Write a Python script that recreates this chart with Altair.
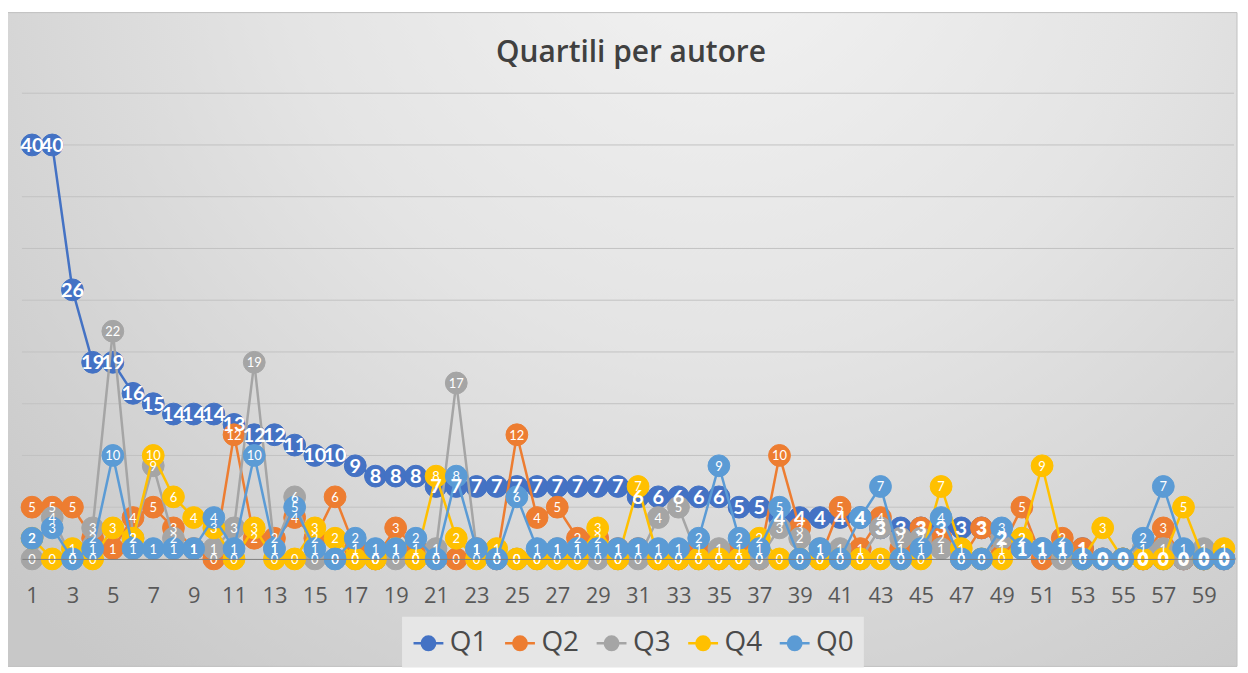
import altair as alt
import pandas as pd

# ---------------- data ----------------
authors = list(range(1, 61))
series_names = ["Q1", "Q2", "Q3", "Q4", "Q0"]
series_colors = ["#4472C4", "#ED7D31", "#A5A5A5", "#FFC000", "#5B9BD5"]
tick_labels = list(range(1, 61, 2))
grid_values = list(range(5, 50, 5))

q1 = [40, 40, 26, 19, 19, 16, 15, 14, 14, 14,
      13, 12, 12, 11, 10, 10, 9, 8, 8, 8,
      7, 7, 7, 7, 7, 7, 7, 7, 7, 7,
      6, 6, 6, 6, 6, 5, 5, 4, 4, 4,
      4, 4, 3, 3, 3, 3, 3, 3, 2, 1,
      1, 1, 1, 0, 0, 0, 0, 0, 0, 0]
q2 = [5, 5, 5, 2, 1, 4, 5, 3, 1, 0,
      12, 2, 2, 4, 2, 6, 1, 0, 3, 1,
      0, 0, 1, 0, 12, 4, 5, 2, 2, 1,
      1, 0, 0, 1, 0, 1, 0, 10, 3, 0,
      5, 1, 4, 1, 3, 2, 0, 3, 1, 5,
      0, 2, 1, 0, 0, 0, 3, 0, 0, 0]
q3 = [0, 4, 0, 3, 22, 2, 9, 2, 1, 1,
      3, 19, 1, 6, 0, 0, 0, 0, 0, 0,
      1, 17, 1, 0, 0, 0, 1, 1, 0, 0,
      0, 4, 5, 0, 1, 0, 0, 3, 2, 1,
      1, 0, 3, 2, 2, 1, 0, 0, 2, 2,
      1, 0, 0, 0, 0, 1, 1, 0, 1, 0]
q4 = [2, 0, 1, 0, 3, 2, 10, 6, 4, 3,
      0, 3, 0, 0, 3, 2, 0, 0, 1, 0,
      8, 2, 0, 1, 0, 0, 0, 0, 3, 0,
      7, 0, 0, 0, 0, 0, 2, 0, 0, 0,
      0, 0, 0, 0, 0, 7, 1, 0, 0, 2,
      9, 1, 0, 3, 0, 0, 0, 5, 0, 1]
q0 = [2, 3, 0, 1, 10, 1, 1, 1, 1, 4,
      1, 10, 1, 5, 1, 0, 2, 1, 1, 2,
      0, 8, 1, 0, 6, 1, 1, 1, 1, 1,
      1, 1, 1, 2, 9, 2, 1, 5, 0, 1,
      0, 4, 7, 0, 1, 4, 0, 0, 3, 1,
      1, 1, 0, 0, 0, 2, 7, 1, 0, 0]

all_values = [q1, q2, q3, q4, q0]

rows = []
for name, vals in zip(series_names, all_values):
    for a, v in zip(authors, vals):
        rows.append({"autore": a, "serie": name, "valore": v})
df = pd.DataFrame(rows)
single = pd.DataFrame({"k": [0]})
grid_df = pd.DataFrame({"valore": grid_values})

W, H = 1218, 468
FONT = "Open Sans"
LABEL_FONT = "Lato"
TEXT_GREY = "#595959"

y_scale = alt.Scale(domain=[0, 45], nice=False)

x_enc = alt.X(
    "autore:O",
    scale=alt.Scale(domain=authors),
    axis=alt.Axis(
        values=tick_labels, labelAngle=0, ticks=False, labelPadding=27,
        labelFontSize=22, labelColor=TEXT_GREY, labelFont=FONT,
        labelOverlap=False, domainColor="#7f7f7f", domainWidth=1,
        grid=False, title=None, zindex=1,
    ),
)
y_enc = alt.Y("valore:Q", scale=y_scale, axis=None)

# legend symbol: short line through a disk (disk built from concentric strokes)
disk = "".join(
    f"M{r},0A{r},{r},0,1,1,-{r},0A{r},{r},0,1,1,{r},0"
    for r in ("0.08", "0.18", "0.28", "0.38", "0.45")
)
legend_symbol = "M-1,0L1,0" + disk

legend = alt.Legend(
    title=None, orient="none", legendX=382, legendY=526,
    direction="horizontal", fillColor="#e6e6e6", padding=10,
    symbolType=legend_symbol, symbolSize=900, symbolStrokeWidth=2.5,
    symbolOpacity=1,
    labelFontSize=28, labelColor="#4a4a4a", labelFont=FONT,
    labelOffset=5, columnPadding=12, zindex=1,
)


def scale():
    return alt.Scale(domain=series_names, range=series_colors)


gradient = {
    "gradient": "radial",
    "x1": 0.58, "y1": 0.15, "r1": 0.0,
    "x2": 0.58, "y2": 0.15, "r2": 0.8,
    "stops": [
        {"offset": 0.0, "color": "#f3f3f3"},
        {"offset": 0.45, "color": "#e4e4e4"},
        {"offset": 1.0, "color": "#c8c8c8"},
    ],
}

background = alt.Chart(single).mark_rect(
    color=gradient, stroke="#bfbfbf", strokeWidth=1
).encode(
    x=alt.value(-15), x2=alt.value(1221), y=alt.value(-81), y2=alt.value(576)
)

grid = alt.Chart(grid_df).mark_rule(color="#c2c2c2", strokeWidth=1).encode(
    y=y_enc
)

title = alt.Chart(single).mark_text(
    text="Quartili per autore", font=FONT, fontSize=30, fontWeight=600,
    color="#404040", align="center", baseline="alphabetic",
).encode(x=alt.value(612), y=alt.value(-31))

layers = [background, grid, title]
base = alt.Chart(df)
for i, name in enumerate(series_names):
    sub = base.transform_filter(alt.datum.serie == name)
    line = sub.mark_line(strokeWidth=2.5).encode(
        x=x_enc, y=y_enc,
        color=alt.Color("serie:N", scale=scale(), legend=legend),
    )
    pts = sub.mark_point(filled=True, size=480, opacity=1, strokeWidth=1).encode(
        x=x_enc, y=y_enc,
        fill=alt.Fill("serie:N", scale=scale(), legend=None),
        stroke=alt.Stroke("serie:N", scale=scale(), legend=None),
    )
    layers += [line, pts]

for name in series_names:
    sub = base.transform_filter(alt.datum.serie == name)
    if name == "Q1":
        txt = sub.mark_text(color="white", font=LABEL_FONT, fontSize=20,
                            fontWeight="bold", baseline="middle", align="center", dy=1)
    else:
        txt = sub.mark_text(color="white", font=LABEL_FONT, fontSize=13,
                            baseline="middle", align="center", dy=1)
    layers.append(txt.encode(x=x_enc, y=y_enc, text=alt.Text("valore:Q")))

chart = alt.layer(*layers).properties(
    width=W, height=H,
    autosize=alt.AutoSizeParams(type="none"),
    padding={"left": 14, "top": 84, "right": 6, "bottom": 113},
).configure_view(stroke=None).configure(background="white")

chart.save("out.html", embed_options={"renderer": "svg", "actions": False})
